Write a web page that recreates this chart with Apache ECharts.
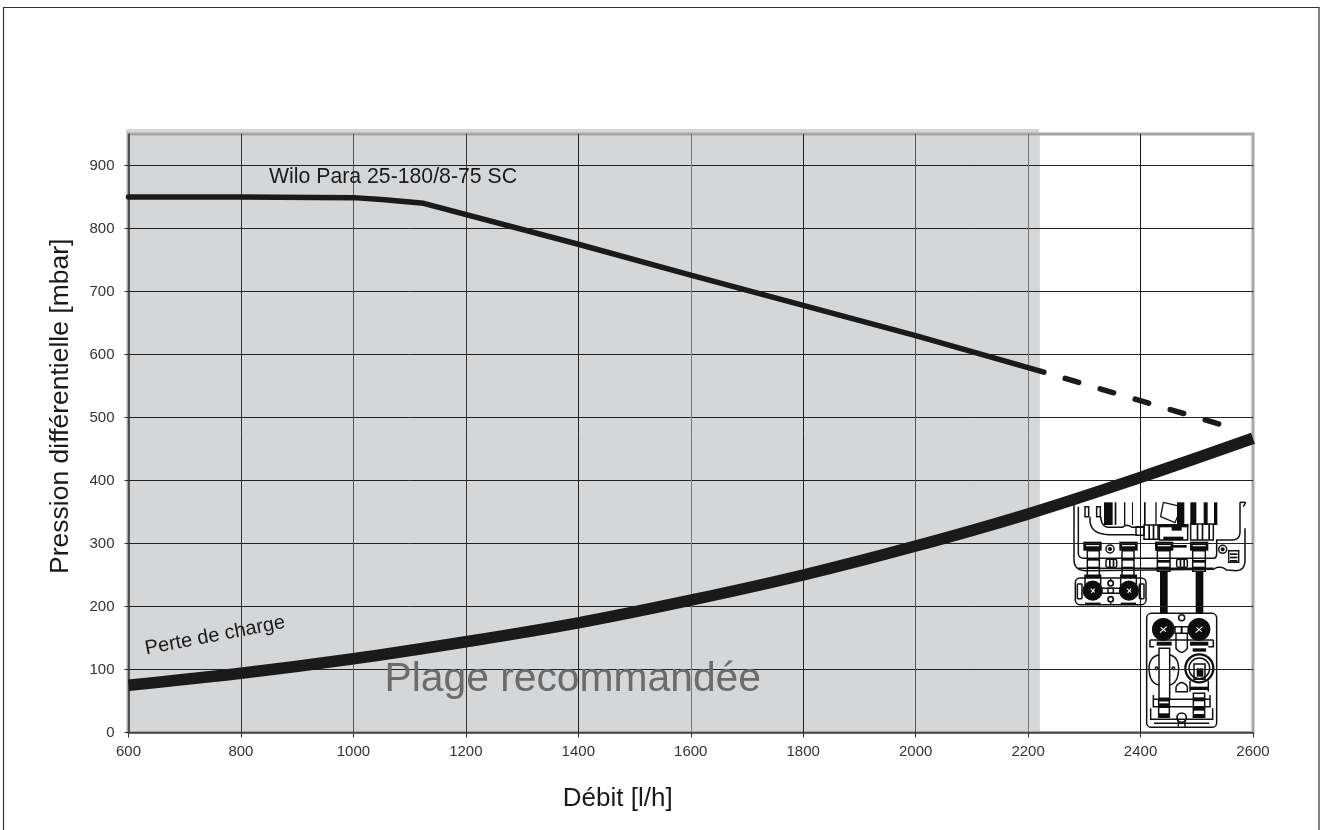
<!DOCTYPE html>
<html><head><meta charset="utf-8">
<style>html,body{margin:0;padding:0;background:#fff;overflow:hidden}#c{width:1325px;height:830px}</style>
<script src="https://cdn.jsdelivr.net/npm/echarts@6/dist/echarts.min.js"></script>
</head><body><div id="c"></div>
<script>
const xTicks = [600,800,1000,1200,1400,1600,1800,2000,2200,2400,2600];
const yTicks = [0,100,200,300,400,500,600,700,800,900];
const pumpFlow = [600,800,1000,1050,1125,1400,1600,1800,2000,2228];
const pumpPressure = [850,850,849,846,840,775,726,678,630,572];
const pumpDashedFlow = [2266,2546];
const pumpDashedPressure = [562,488];
const lossFlow = [600,800,1000,1200,1400,1600,1800,2000,2200,2400,2600];
const lossPressure = [75,94,117,144,174,210,250,296,347,405,467];
const recommendedRange = [600,2221];
const zip = (a,b)=>a.map((v,i)=>[v,b[i]]);
const FONT = '"Liberation Sans", Arial, sans-serif';
const BAND = '#d5d6d8', INK = '#1a1a1a';

// turn a small M/L/Q/Z outline string into polylines for the graphic component
function outline(d){
  const out=[]; let cur=null;
  const re=/([MLQZ])([^MLQZ]*)/g; let m;
  while((m=re.exec(d))){
    const n=m[2].trim().split(/[\s,]+/).filter(Boolean).map(Number);
    if(m[1]==='M'){cur=[[n[0],n[1]]];out.push(cur);}
    else if(m[1]==='L'){cur.push([n[0],n[1]]);}
    else if(m[1]==='Q'){const p=cur[cur.length-1];
      for(let t=1;t<=8;t++){const u=t/8,v=1-u;
        cur.push([v*v*p[0]+2*v*u*n[0]+u*u*n[2],v*v*p[1]+2*v*u*n[1]+u*u*n[3]]);}}
    else if(m[1]==='Z'){cur.push(cur[0].slice());}
  }
  return out;
}
function pumpDrawing(){
  const kids = [];
  const LW = 4.5;
  const P = (d,stroke,w)=>outline(d).forEach(points=>kids.push({type:'polyline',shape:{points},style:{fill:null,stroke,lineWidth:w}}));
  const S = (d,w)=>P(d,'#111',w||LW);
  const W = d=>P(d,'#fff',3.5);
  const F = (x,y,w,h)=>kids.push({type:'rect',shape:{x,y,width:w,height:h},style:{fill:'#0c0c0c'}});
  const R = (x,y,w,h,r)=>kids.push({type:'rect',shape:{x,y,width:w,height:h,r:r||0},style:{fill:null,stroke:'#111',lineWidth:LW}});
  const C = (x,y,r,fill,w)=>kids.push({type:'circle',shape:{cx:x,cy:y,r},style:{fill:fill||null,stroke:'#111',lineWidth:w||LW}});
  // upper housing
  S('M222 487L222 660Q222 690 255 692L640 688Q660 674 680 690L710 692Q735 690 735 660L735 565');
  S('M222 487L240 487M720 487L737 487M737 487L730 500');
  S('M235 500L235 640Q235 655 255 655L640 655Q650 655 650 640L650 600L695 600Q720 600 720 575L720 487');
  S('M235 685L640 685');
  [[312,26],[344,5],[372,4],[396,3],[432,5],[466,4],[531,22],[571,18],[611,12],[642,10]].forEach(b=>F(b[0],487,b[1],68));
  R(255,500,11,30); R(290,500,11,30);
  // pipe
  S('M270 530L270 545Q274 582 325 584L412 584');
  S('M302 530Q304 560 325 562L368 562Q380 550 396 562L432 562');
  R(408,560,24,26);
  // centre valve
  S('M490 487L545 500L525 548L482 530Z',4);
  F(475,552,90,10); R(478,555,85,45); F(515,560,30,12); F(490,590,60,10); F(500,615,60,8);
  R(432,555,42,43); F(445,555,5,43); F(458,555,5,43);
  R(572,552,68,48); F(590,552,5,48); F(605,552,5,48); F(625,552,5,48);
  // headers
  [[250,55],[358,55],[465,55],[570,55]].forEach(b=>{F(b[0],605,b[1],27);W('M'+(b[0]+8)+' 617L'+(b[0]+b[1]-8)+' 617');});
  [[262,36],[366,36]].forEach(b=>{R(b[0],632,b[1],78);F(b[0],655,b[1],7);F(b[0],680,b[1],6);});
  [[472,38],[578,38]].forEach(b=>{R(b[0],632,b[1],62);F(b[0],660,b[1],8);F(b[0],680,b[1],8);});
  C(330,627,12); C(330,627,4,'#111'); C(668,628,12); C(668,628,4,'#111');
  R(686,632,30,35); F(690,640,22,5); F(690,650,22,5); F(690,660,22,5);
  R(318,658,32,24,5); F(327,660,5,20); F(338,660,5,20); R(530,658,32,24,5); F(539,660,5,20); F(550,660,5,20);
  // lower-left block
  R(226,714,212,80,14); R(232,732,14,44,2); R(418,732,14,44,2);
  [[255,47],[362,47]].forEach(b=>{R(b[0],706,b[1],30);F(b[0],706,b[1],8);});
  C(278,752,28,'#0c0c0c'); C(387,752,28,'#0c0c0c');
  W('M272 746L284 757M284 746L274 759'); W('M381 746L393 757M393 746L383 759');
  C(332,730,8,null,5); C(332,778,8,null,5); R(305,745,55,15); R(324,745,16,15); S('M332 714L332 720M332 788L332 793M255 790L302 790M362 790L408 790');
  // dark connecting pipes
  F(480,695,23,125); F(587,695,23,125);
  // lower module
  R(440,820,210,342,14);
  C(545,833,9); C(490,868,32,'#0c0c0c'); C(597,868,32,'#0c0c0c');
  W('M480 878L500 860M482 862L498 875'); W('M587 878L607 860M589 862L605 875');
  R(525,860,40,20); F(542,860,6,20);
  S('M528 882L528 925Q545 948 562 925L562 882');
  S('M450 900L640 900M450 900L450 920L462 920M640 900L640 920L625 920');
  F(470,905,45,12); F(570,905,55,12); F(578,925,40,10);
  R(477,925,32,150);
  S('M477 945Q448 950 447 985Q448 1030 477 1035M509 945Q535 950 536 985Q535 1030 509 1035');
  C(470,985,4); C(520,985,4);
  C(598,985,42,null,7); C(598,985,31); R(582,972,33,46); F(590,985,20,25);
  S('M528 1040Q545 1015 562 1040L562 1055L528 1055Z');
  S('M570 1022L570 1055M625 1022L625 1055');
  F(570,1040,55,10);
  S('M460 1065L460 1100L630 1100L630 1065M460 1078L630 1078');
  R(476,1082,32,50); F(476,1090,32,14); F(476,1120,32,12);
  R(580,1060,34,72); F(580,1072,34,12); F(580,1100,34,12); F(580,1122,34,10);
  S('M452 1105L452 1138L638 1138L638 1105M462 1150L628 1150');
  C(545,1133,14,null,5); S('M535 1140L535 1160M555 1140L555 1160');
  return {type:'group',x:1000,y:340,scaleX:1/3,scaleY:1/3,z:6,silent:true,children:kids};
}
function note(text,x,y,size,fill,rotation){
  return {type:'text',x,y,rotation:rotation||0,z:7,silent:true,
    style:{text,font:size+'px '+FONT,fill,align:'left',verticalAlign:'bottom'}};
}
const chart = echarts.init(document.getElementById('c'),null,{renderer:'canvas'});
chart.setOption({
  animation:false,backgroundColor:'#fff',
  grid:{left:128.5,right:72,top:134,bottom:97.5,outerBoundsMode:'none',show:true,borderColor:'#a6a6a6',borderWidth:3,backgroundColor:'transparent',z:1},
  xAxis:{type:'value',min:600,max:2600,interval:200,z:2,
    name:'Débit [l/h]',nameLocation:'middle',nameGap:51,
    nameTextStyle:{fontFamily:FONT,fontSize:26,color:INK,padding:[0,146,0,0],lineHeight:30},
    axisLine:{show:true,lineStyle:{color:'#555',width:1.5}},
    axisTick:{show:true,length:5,lineStyle:{color:'#333',width:1}},
    axisLabel:{fontFamily:FONT,fontSize:15,color:'#333',margin:12,formatter:v=>String(v),showMinLabel:true,showMaxLabel:true,hideOverlap:false},
    splitLine:{show:true,showMinLine:false,showMaxLine:false,lineStyle:{color:['#333','#555','#333','#222','#777','#222','#555','#777','#111','#777'],width:1}}},
  yAxis:{type:'value',min:0,max:950,z:2,
    name:'Pression différentielle [mbar]',nameLocation:'middle',nameGap:53,
    nameTextStyle:{fontFamily:FONT,fontSize:26.5,color:INK,padding:[0,0,0,54],lineHeight:30},
    axisLine:{show:true,lineStyle:{color:'#333',width:1.5}},
    axisTick:{show:true,length:4,lineStyle:{color:'#333',width:1},customValues:yTicks},
    axisLabel:{fontFamily:FONT,fontSize:15,color:'#333',margin:14,customValues:yTicks},
    splitLine:{show:true,lineStyle:{color:'#222',width:1}}},
  series:[
    {type:'line',name:'Plage recommandée',z:0,data:[],silent:true,
      markArea:{z:0,silent:true,itemStyle:{color:BAND,opacity:1},label:{show:false},
        data:[[{xAxis:recommendedRange[0],yAxis:0},{xAxis:recommendedRange[1],yAxis:950}]]}},
    {type:'line',name:'Wilo Para 25-180/8-75 SC',z:3,data:zip(pumpFlow,pumpPressure),showSymbol:false,silent:true,
      lineStyle:{color:INK,width:5.5,cap:'round',join:'round'}},
    {type:'line',name:'Wilo Para (extrapolation)',z:3,data:zip(pumpDashedFlow,pumpDashedPressure),showSymbol:false,silent:true,
      lineStyle:{color:INK,width:5.5,cap:'round',type:[14,22.5]}},
    {type:'line',name:'Perte de charge',z:4,data:zip(lossFlow,lossPressure),smooth:0.35,showSymbol:false,silent:true,
      lineStyle:{color:INK,width:11.5,cap:'butt'}}
  ],
  graphic:{elements:[
    {type:'rect',z:-1,silent:true,shape:{x:126,y:129,width:913,height:5},style:{fill:BAND}},
    {type:'rect',z:-1,silent:true,shape:{x:126,y:129,width:3,height:604},style:{fill:BAND}},
    {type:'rect',z:8,silent:true,shape:{x:3.5,y:7.5,width:1315.5,height:840},style:{fill:null,stroke:'#333',lineWidth:1.2}},
    note('Wilo Para 25-180/8-75 SC',269,188,21.25,INK),
    note('Perte de charge',147,659,20,INK,0.19),
    note('Plage recommandée',384.5,700,40.8,'#6b6b6b'),
    pumpDrawing()
  ]}
});
</script></body></html>
